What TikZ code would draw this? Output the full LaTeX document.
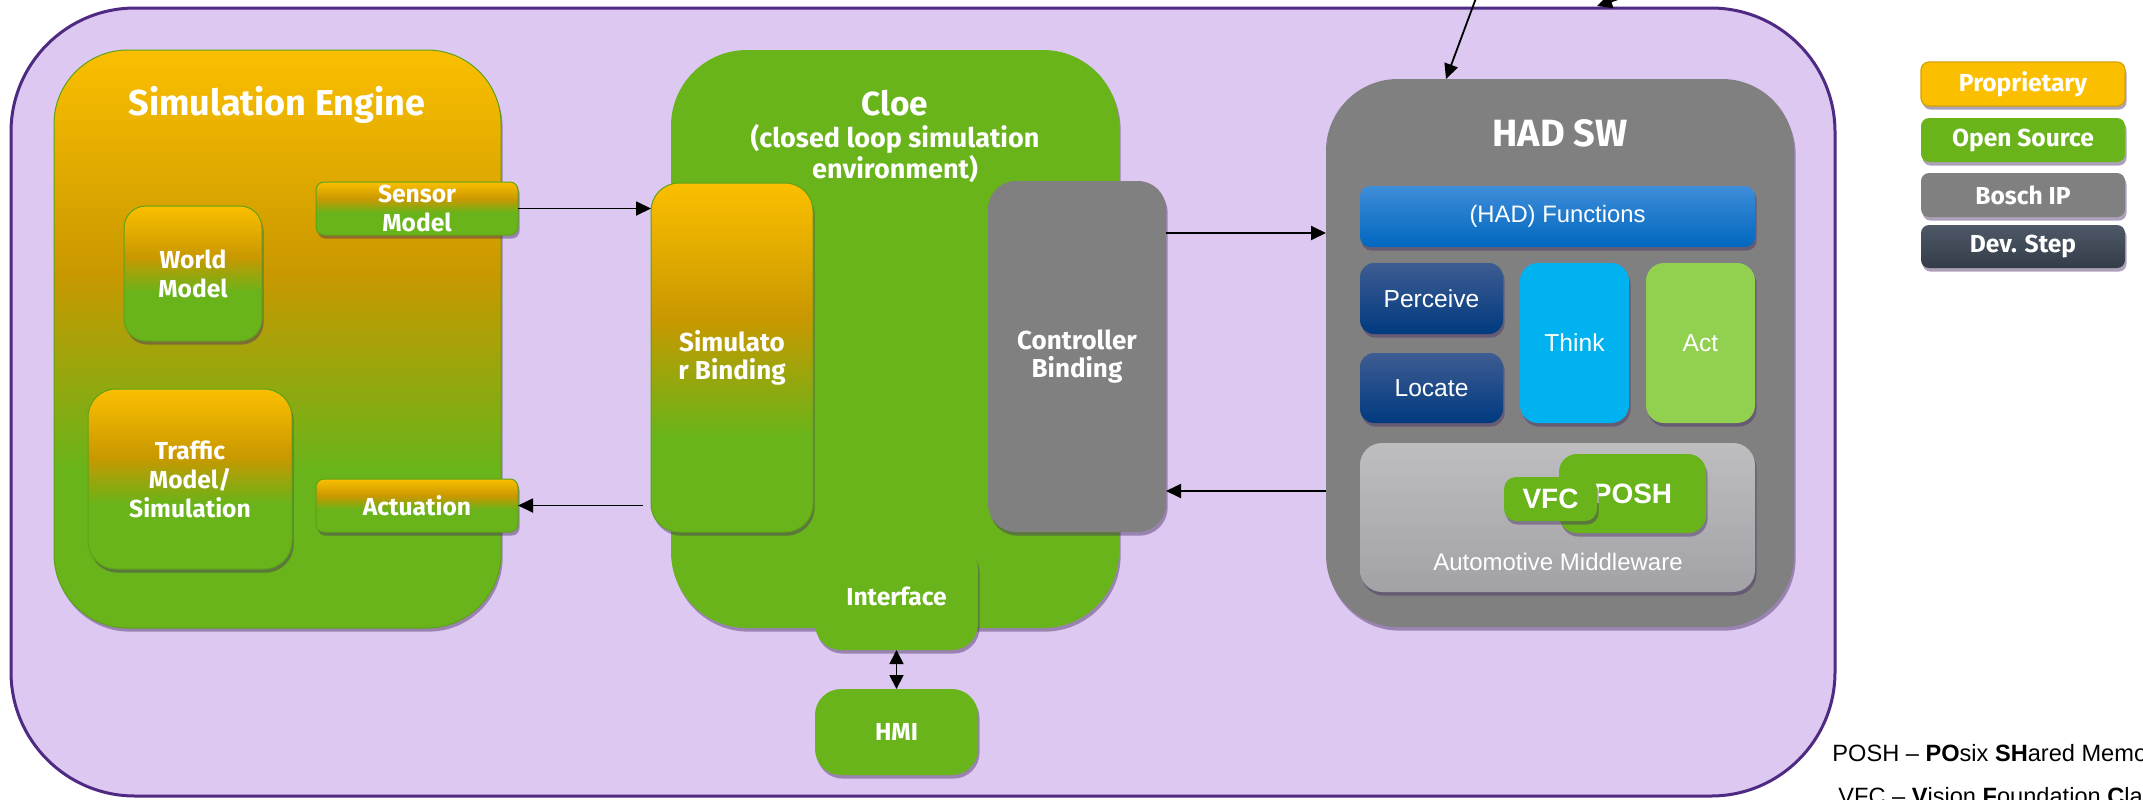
\documentclass[tikz,border=0pt]{standalone}
\usepackage{fontspec}
\setmainfont{Liberation Sans}
\newfontfamily\fira{Fira Sans}
\usetikzlibrary{shadows,arrows.meta,calc}

\definecolor{lav}{HTML}{DCC8F0}
\definecolor{lavline}{HTML}{4F2A83}
\definecolor{bgreen}{HTML}{68B41A}
\definecolor{borange}{HTML}{FBBF00}
\definecolor{bgold}{HTML}{C99800}
\definecolor{bgray}{HTML}{808080}
\definecolor{fnTop}{HTML}{3F8DD9}
\definecolor{fnBot}{HTML}{0067BF}
\definecolor{navyTop}{HTML}{3E5C92}
\definecolor{navyBot}{HTML}{003A7F}
\definecolor{thinkc}{HTML}{00B2F0}
\definecolor{actc}{HTML}{92D050}
\definecolor{mwTop}{HTML}{BEBEC1}
\definecolor{mwBot}{HTML}{A2A2A6}
\definecolor{devTop}{HTML}{4E5867}
\definecolor{devBot}{HTML}{343C48}
\definecolor{shadowc}{HTML}{4A2F66}

% orange -> gold -> green fades (bottom to top, path spans 25bp..75bp)
\pgfdeclareverticalshading{simeng}{100bp}{color(0bp)=(bgreen); color(38.6bp)=(bgreen); color(55.7bp)=(bgold); color(75bp)=(borange); color(100bp)=(borange)}
\pgfdeclareverticalshading{pgo}{100bp}{color(0bp)=(bgreen); color(43bp)=(bgreen); color(56bp)=(bgold); color(75bp)=(borange); color(100bp)=(borange)}
\pgfdeclareverticalshading{pgobar}{100bp}{color(0bp)=(bgreen); color(46bp)=(bgreen); color(59bp)=(bgold); color(75bp)=(borange); color(100bp)=(borange)}

% box from corner (x1,y1) to (x2,y2) in pixel units
\newcommand\bx[7]{%
  \node[boxbase,#6, minimum width={(#4-#2)*0.5pt}, minimum height={(#5-#3)*0.5pt}] (#1) at ({(#2+#4)/2},{(#3+#5)/2}) {#7};}

\tikzset{
  boxbase/.style={rectangle, inner sep=0pt, outer sep=0pt},
  shad/.style={drop shadow={shadow xshift=0.8pt, shadow yshift=-1.8pt, fill=shadowc, opacity=0.45}},
  arr/.style={line width=0.9pt, -{Triangle[length=7.5pt,width=7pt]}},
  dblarr/.style={line width=0.9pt, {Triangle[length=7pt,width=7pt]}-{Triangle[length=7pt,width=7pt]}},
  lbl/.style={text=white, align=center, font=\fira\bfseries\fontsize{12.3}{14.5}\selectfont},
  bindlbl/.style={text=white, align=center, font=\fira\bfseries\fontsize{13}{14}\selectfont},
  bigtitle/.style={text=white, anchor=base, font=\fira\bfseries\fontsize{18}{20}\selectfont},
  cloetitle/.style={text=white, anchor=base, font=\fira\bfseries\fontsize{16.7}{19}\selectfont},
  cloesub/.style={text=white, anchor=base, font=\fira\bfseries\fontsize{13.5}{15.5}\selectfont},
  armtxt/.style={text=white, font=\fontsize{12.3}{14}\selectfont},
  poshtxt/.style={text=white, font=\bfseries\fontsize{14}{16}\selectfont},
  legtxt/.style={text=white, font=\fira\bfseries\fontsize{12.3}{14}\selectfont},
  notetxt/.style={anchor=base west, inner sep=0pt, font=\fontsize{11.8}{14}\selectfont},
  engbox/.style={draw=bgreen!90!black, line width=0.5pt, shad},
}

\begin{document}
\begin{tikzpicture}[x=0.5pt,y=-0.5pt]
\useasboundingbox (0,0) rectangle (2143,799);
\clip (0,0) rectangle (2143,799);

% outer frame
\bx{frame}{11}{8}{1835}{796}{draw=lavline, line width=1.5pt, fill=lav, rounded corners=62pt}{}

% simulation engine
\bx{sim}{54}{50}{501}{628}{engbox, shading=simeng, rounded corners=37pt}{}
\node[bigtitle] (simt) at (277,115) {Simulation Engine};
\bx{sensor}{316}{182}{518}{235}{engbox, shading=pgobar, rounded corners=4pt, lbl}{Sensor\\Model}
\bx{world}{124}{206}{262}{341}{engbox, shading=pgo, rounded corners=11pt, lbl}{World\\Model}
\bx{traffic}{88}{389}{292}{569}{engbox, shading=pgo, rounded corners=14pt, lbl}{Traffic\\Model/\\Simulation}
\bx{actu}{316}{479}{518}{532}{engbox, shading=pgobar, rounded corners=4pt, lbl}{Actuation}

% closed loop environment
\bx{cloe}{671}{50}{1119}{628}{fill=bgreen, rounded corners=38pt, shad}{}
\node[cloetitle] (cloet) at (895,115) {Cloe};
\node[cloesub] (cloes1) at (895,147) {(closed loop simulation};
\node[cloesub] (cloes2) at (895,178) {environment)};
\bx{intf}{815}{543}{978}{650}{fill=bgreen, rounded corners=13pt, shad, lbl}{Interface}
\bx{hmi}{815}{689}{978}{775}{fill=bgreen, rounded corners=13pt, shad, lbl}{HMI}
\bx{simb}{651}{183}{813}{532}{engbox, shading=simeng, rounded corners=14pt, bindlbl}{Simulato\\r Binding}
\bx{ctrl}{988}{181}{1166}{532}{fill=bgray, rounded corners=14pt, shad, bindlbl}{Controller\\Binding}

% HAD software stack
\bx{had}{1326}{79}{1794}{627}{fill=bgray, rounded corners=36pt, shad}{}
\node[bigtitle, font=\fira\bfseries\fontsize{19}{21}\selectfont] (hadt) at (1560,146) {HAD SW};
\bx{fnc}{1360}{186}{1755}{247}{top color=fnTop, bottom color=fnBot, rounded corners=5pt, shad, armtxt, font=\fontsize{11.9}{14}\selectfont}{(HAD) Functions}
\bx{perc}{1360}{263}{1503}{334}{top color=navyTop, bottom color=navyBot, rounded corners=7pt, shad, armtxt}{Perceive}
\bx{loc}{1360}{353}{1503}{423}{top color=navyTop, bottom color=navyBot, rounded corners=7pt, shad, armtxt}{Locate}
\bx{think}{1520}{263}{1629}{423}{fill=thinkc, rounded corners=9pt, shad, armtxt}{Think}
\bx{act}{1646}{263}{1755}{423}{fill=actc, rounded corners=9pt, shad, armtxt}{Act}
\bx{mw}{1360}{443}{1755}{592}{top color=mwTop, bottom color=mwBot, rounded corners=11pt, shad}{}
\node[armtxt, anchor=base, font=\fontsize{12}{14}\selectfont] (mwt) at (1558,570) {Automotive Middleware};
\bx{posh}{1559}{454}{1706}{533}{fill=bgreen, rounded corners=9pt, shad, poshtxt}{POSH}
\bx{vfc}{1504}{477}{1597}{521}{fill=bgreen, rounded corners=6pt, shad, poshtxt}{VFC}

% legend
\bx{lp}{1921}{62}{2125}{106}{fill=borange, draw=borange!85!black, line width=0.6pt, rounded corners=4pt, shad, legtxt}{Proprietary}
\bx{lo}{1921}{118}{2125}{162}{fill=bgreen, rounded corners=4pt, shad, legtxt}{Open Source}
\bx{lb}{1921}{173}{2125}{217}{fill=bgray, rounded corners=4pt, shad, legtxt}{Bosch IP}
\bx{ld}{1921}{225}{2125}{268}{top color=devTop, bottom color=devBot, rounded corners=4pt, shad, legtxt}{Dev. Step}

% abbreviations
\node[notetxt] (nposh) at (1832,761) {POSH -- \textbf{PO}six \textbf{SH}ared Memory};
\node[notetxt] (nvfc) at (1838,804) {VFC -- \textbf{V}ision \textbf{F}oundation \textbf{C}lasses};

% connectors
\coordinate (ya) at (0,233);
\coordinate (yb) at (0,491);
\draw[arr] (sensor.east) -- (sensor.east -| simb.west);
\draw[arr, shorten <=4pt] (simb.west |- actu.east) -- (actu.east);
\draw[arr] (ctrl.east |- ya) -- (had.west |- ya);
\draw[arr] (had.west |- yb) -- (ctrl.east |- yb);
\draw[dblarr] (intf.south) -- (hmi.north);
\coordinate (ext1) at (1479,-10);
\coordinate (hadin) at (1446,79);
\draw[arr] (ext1) -- (hadin);
\coordinate (ext2) at (1700,-28);
\coordinate (frin) at (1597,6);
\draw[arr] (ext2) -- (frin);
\end{tikzpicture}
\end{document}
